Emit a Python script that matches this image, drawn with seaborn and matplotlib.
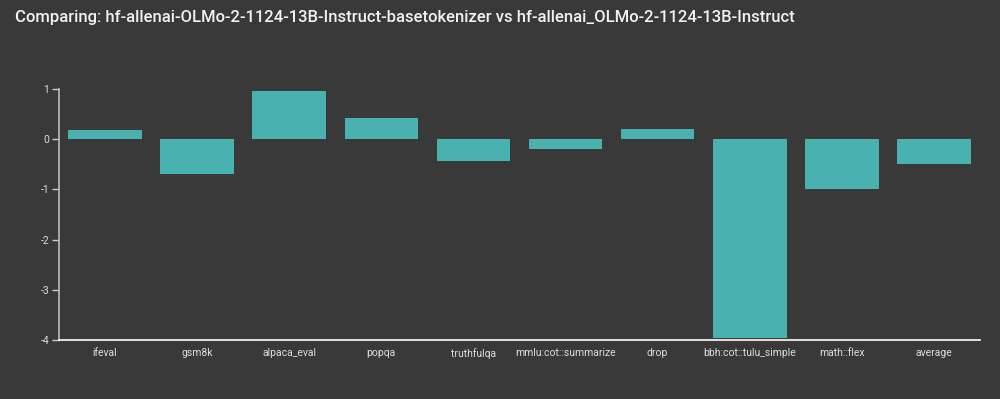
import numpy as np
import pandas as pd
import matplotlib
matplotlib.use("Agg")
import matplotlib.pyplot as plt
import seaborn as sns

tasks = ["ifeval", "gsm8k", "alpaca_eval", "popqa", "truthfulqa",
         "mmlu:cot::summarize", "drop", "bbh:cot::tulu_simple", "math::flex", "average"]
diffs = [0.18, -0.69, 0.95, 0.43, -0.44, -0.20, 0.21, -3.97, -1.00, -0.50]
title = "Comparing: hf-allenai-OLMo-2-1124-13B-Instruct-basetokenizer vs hf-allenai_OLMo-2-1124-13B-Instruct"

df = pd.DataFrame({"task": tasks, "diff": diffs})

bg = "#393939"
bar_color = "#4ab1b1"
text_color = "#dddddd"

sns.set_style("dark")
plt.rcParams["font.family"] = ["Roboto", "DejaVu Sans"]

fig = plt.figure(figsize=(10, 3.99), dpi=100, facecolor=bg)
ax = fig.add_axes([0.059, 0.148, 0.921, 0.629])
ax.set_facecolor(bg)

sns.barplot(data=df, x="task", y="diff", color=bar_color, width=0.8,
            saturation=1, ax=ax, order=tasks, linewidth=0, edgecolor=bar_color)

ax.set_xlim(-0.5, len(tasks) - 0.5)
ax.set_ylim(-4, 1)
ax.set_yticks([1, 0, -1, -2, -3, -4])
ax.set_yticklabels(["1", "0", "-1", "-2", "-3", "-4"])

# boundary ticks as major, labels at centres as minor
ax.set_xticks(np.arange(-0.5, len(tasks)), labels=[])
ax.set_xticks(np.arange(len(tasks)), labels=tasks, minor=True)
ax.tick_params(axis="x", which="major", length=5, width=1, color="#cccccc", direction="out")
ax.tick_params(axis="x", which="minor", length=0, labelsize=7.5, labelcolor=text_color, pad=6)
ax.tick_params(axis="y", length=5, width=1, color="#cccccc", labelsize=7.5,
               labelcolor=text_color, pad=2, left=True)

for s in ["top", "right"]:
    ax.spines[s].set_visible(False)
ax.spines["left"].set_color("#bbbbbb")
ax.spines["left"].set_linewidth(1.2)
ax.spines["bottom"].set_color("#ffffff")
ax.spines["bottom"].set_linewidth(1.2)
ax.grid(False)
ax.set_xlabel("")
ax.set_ylabel("")

fig.text(0.015, 0.955, title, color="#f2f2f2", fontsize=12, fontweight="medium",
         ha="left", va="center")

fig.savefig("out.png", dpi=100, facecolor=bg)
